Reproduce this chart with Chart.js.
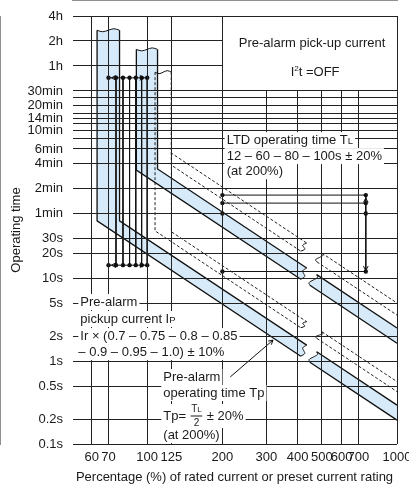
<!DOCTYPE html>
<html>
<head>
<meta charset="utf-8">
<title>Pre-alarm operating characteristic</title>
<script src="https://cdn.jsdelivr.net/npm/chart.js@4.4.1/dist/chart.umd.min.js"></script>
<style>
  html, body { margin: 0; padding: 0; background: #fff; }
  .box { position: relative; width: 409px; height: 486px; }
</style>
</head>
<body>
<div class="box"><canvas id="curve"></canvas></div>
<script>
let ctx = document.getElementById('curve').getContext('2d');

// axis ticks
const xTicks = [60, 70, 100, 125, 200, 300, 400, 500, 600, 700, 1000];
const yTicks = [0.1, 0.2, 0.5, 1, 2, 5, 10, 20, 30, 60, 120, 240, 360, 480, 600, 720, 840, 960, 1200, 1500, 1800, 3600, 7200, 14400];
const yTickLabels = ['0.1s', '0.2s', '0.5s', '1s', '2s', '5s', '10s', '20s', '30s', '1min', '2min', '4min', '6min', '', '10min', '', '14min', '', '20min', '', '30min', '1h', '2h', '4h'];

// curves: pick-up edges (%) and time at 200 % (s) of the lower / upper curve
const preAlarm6Pickup = [63, 77.5];
const preAlarm6T200 = [4.85, 7.35];
const preAlarm50Pickup = [90.5, 110];
const preAlarm50T200 = [41, 62.5];
const ltd12Pickup = [107.5, 125];
const ltd12T200 = [10.7, 14.1];
const ltd100Pickup = [125, 125];
const ltd100T200 = [89.5, 125];
const curveTops = [9700, 5700, 3030];

// where the curves are broken (lower edge, upper edge), %
const breakStop = [412, 435];
const bandResume = [448, 477];
const dashResume = [478, 500];

// pre-alarm pick-up settings Ir x 0.7 ... 1.0
const pickupSettings = [70, 75, 80, 85, 90, 95, 100];
const pickupArrowTimes = [2590, 14.3];

// LTD settings TL (s at 200 %)
const ltdSettings = [12, 60, 80, 100];
const settingSpan = [200, 750];

// leader from the Tp note to the band
const leaderX = [215, 319];
const leaderT = [0.643, 1.79];

const FONT = '"Liberation Sans", Arial, Helvetica, sans-serif';
const INK = '#1a1a1a';
const GRID = '#222';
const BLUE = 'rgb(214, 234, 249)';

const tAt = (x, t200) => t200 * (200 / x) * (200 / x);

// small ripple between two points (log space), for the broken ends
function wave(a, b, amp, dir) {
  const bumps = [0, 1, 0, -1, 0];
  const ax = Math.log10(a.x), ay = Math.log10(a.y);
  const bx = Math.log10(b.x), by = Math.log10(b.y);
  return bumps.map((k, i) => {
    let lx = ax + (bx - ax) * i / 4, ly = ay + (by - ay) * i / 4;
    if (dir === 'x') lx += k * amp; else ly += k * amp;
    return {x: Math.pow(10, lx), y: Math.pow(10, ly)};
  });
}

function bandPaths(pickup, t200, top, resume) {
  const pt = (x, i) => ({x: x, y: tAt(x, t200[i])});
  const inner1 = [{x: pickup[0], y: top}, pt(pickup[0], 0), pt(breakStop[0], 0)];
  const outer1 = [{x: pickup[1], y: top}, pt(pickup[1], 1), pt(breakStop[1], 1)];
  const inner2 = [pt(resume[0], 0), pt(1000, 0)];
  const outer2 = [pt(resume[1], 1), pt(1000, 1)];
  return {
    inner1, outer1, inner2, outer2,
    topCap: wave(outer1[0], inner1[0], 0.018, 'y'),
    endCap: wave(inner1[2], outer1[2], 0.01, 'x'),
    startCap: wave(outer2[0], inner2[0], 0.01, 'x')
  };
}

const datasets = [];
const solid = {borderColor: '#111', borderWidth: 1.3, pointRadius: 0, fill: false, tension: 0};
const thin = {borderColor: '#111', borderWidth: 1, pointRadius: 0, fill: false, tension: 0};
const dashed = {borderColor: '#222', borderWidth: 1, borderDash: [3, 2], pointRadius: 0, fill: false, tension: 0};
const capLine = {borderColor: '#111', borderWidth: 1, pointRadius: 0, fill: false, tension: 0.4};
const dots = {pointRadius: 2.2, pointBackgroundColor: '#111', pointBorderWidth: 0};

function line(data, style, extra) {
  datasets.push(Object.assign({data: data}, style, extra || {}));
}

function curveGroup(pickup, t200, top, resume, filled, lineStyle, withTop) {
  const p = bandPaths(pickup, t200, top, resume);
  if (filled) {
    const fillStyle = {borderWidth: 0, pointRadius: 0, fill: 'shape', backgroundColor: BLUE, order: 10};
    line([...p.inner1, ...p.endCap.slice(1, -1), ...p.outer1.slice().reverse(), ...p.topCap.slice(1)], fillStyle);
    line([...p.inner2, ...p.outer2.slice().reverse(), ...p.startCap.slice(1)], fillStyle);
  }
  line(p.inner1, lineStyle);
  line(p.outer1, lineStyle);
  line(p.inner2, lineStyle);
  line(p.outer2, lineStyle);
  line(p.endCap, capLine);
  line(p.startCap, capLine);
  if (withTop) line(p.topCap, capLine);
}

curveGroup(preAlarm6Pickup, preAlarm6T200, curveTops[0], bandResume, true, solid, true);
curveGroup(preAlarm50Pickup, preAlarm50T200, curveTops[1], bandResume, true, solid, true);
curveGroup(ltd12Pickup, ltd12T200, curveTops[2], dashResume, false, dashed, true);
curveGroup(ltd100Pickup, ltd100T200, curveTops[2], dashResume, false, dashed, false);

// pick-up setting lines with the two dotted arrows
pickupSettings.forEach(s => line([{x: s, y: pickupArrowTimes[0]}, {x: s, y: pickupArrowTimes[1]}], thin));
pickupArrowTimes.forEach(t => line(pickupSettings.map(s => ({x: s, y: t})), thin, dots));

// TL setting marks and the range arrow
ltdSettings.forEach(t => line(settingSpan.map(x => ({x: x, y: t})), thin, dots));
line([{x: settingSpan[1], y: Math.max(...ltdSettings)}, {x: settingSpan[1], y: Math.min(...ltdSettings)}], thin);

// leader
line([{x: leaderX[0], y: leaderT[0]}, {x: leaderX[1], y: leaderT[1]}], thin);

// notes, anchored in data units
const notes = [
  {x: 457, t: 6780, align: 'center', bg: false, runs: [['Pre-alarm pick-up current']]},
  {x: 470, t: 2974, align: 'center', bg: false, runs: [['I'], ['2', 'sup'], ['t =OFF']]},
  {x: 208, t: 460, runs: [['LTD operating time T'], ['L', 'cap']]},
  {x: 208, t: 295, runs: [['12 – 60 – 80 – 100s ± 20%']]},
  {x: 208, t: 194, runs: [['(at 200%)']]},
  {x: 54, t: 5.14, runs: [['Pre-alarm']]},
  {x: 54, t: 3.21, runs: [['pickup current I'], ['P', 'cap']]},
  {x: 54, t: 2.0, runs: [['Ir × (0.7 – 0.75 – 0.8 – 0.85']]},
  {x: 53, t: 1.28, runs: [['– 0.9 – 0.95 – 1.0) ± 10%']]},
  {x: 116, t: 0.641, runs: [['Pre-alarm']]},
  {x: 116, t: 0.411, runs: [['operating time Tp']]},
  {x: 116, t: 0.217, tall: true, runs: [['Tp= '], ['', 'frac'], [' ± 20%']]},
  {x: 116, t: 0.128, runs: [['(at 200%)']]}
];

const fontOf = size => size + 'px ' + FONT;

function runWidth(c, r) {
  if (r[1] === 'frac') {
    c.font = fontOf(10);
    const tw = c.measureText('T').width;
    c.font = fontOf(8);
    return Math.max(tw + c.measureText('L').width, 7) + 3;
  }
  c.font = fontOf(r[1] === 'cap' ? 9.5 : r[1] === 'sup' ? 8 : 13);
  return c.measureText(r[0]).width;
}

function chevron(c, x, y, ang) {
  const L = 5, s = 0.5;
  c.beginPath();
  c.moveTo(x - L * Math.cos(ang - s), y - L * Math.sin(ang - s));
  c.lineTo(x, y);
  c.lineTo(x - L * Math.cos(ang + s), y - L * Math.sin(ang + s));
  c.stroke();
}

const notesPlugin = {
  id: 'notes',
  afterDraw(chart) {
    const c = chart.ctx;
    const xs = chart.scales.x, ys = chart.scales.y;
    const px = v => xs.getPixelForValue(v);
    const py = v => ys.getPixelForValue(v);
    c.save();

    // empty panel at the top right
    const bx0 = Math.round(px(200) - 0.5) + 1, bx1 = Math.round(px(1000) - 0.5);
    const by0 = Math.round(py(14400) - 0.5) + 1, by1 = Math.round(py(1800) - 0.5);
    c.fillStyle = '#fff';
    c.fillRect(bx0, by0, bx1 - bx0, by1 - by0);

    // arrow heads
    c.strokeStyle = '#111';
    c.lineWidth = 1;
    const lo = pickupSettings[0], hi = pickupSettings[pickupSettings.length - 1];
    pickupArrowTimes.forEach(t => {
      chevron(c, px(lo) + 3, py(t), Math.PI);
      chevron(c, px(hi) - 3, py(t), 0);
    });
    const sx = px(settingSpan[1]);
    chevron(c, sx, py(Math.max(...ltdSettings)) + 3, -Math.PI / 2);
    chevron(c, sx, py(Math.min(...ltdSettings)) - 1, Math.PI / 2);
    const l0x = px(leaderX[0]), l0y = py(leaderT[0]), l1x = px(leaderX[1]), l1y = py(leaderT[1]);
    chevron(c, l1x, l1y, Math.atan2(l1y - l0y, l1x - l0x));

    // text
    c.textBaseline = 'middle';
    notes.forEach(n => {
      const widths = n.runs.map(r => runWidth(c, r));
      const total = widths.reduce((a, b) => a + b, 0);
      let x = px(n.x);
      const y = py(n.t);
      if (n.align === 'center') x -= total / 2;
      if (n.bg !== false) {
        c.fillStyle = '#fff';
        const h = n.tall ? 12 : 8;
        c.fillRect(x - 2, y - h, total + 4, h * 2);
      }
      c.fillStyle = INK;
      c.textAlign = 'left';
      n.runs.forEach((r, i) => {
        if (r[1] === 'frac') {
          c.font = fontOf(10);
          const tw = c.measureText('T').width;
          c.font = fontOf(8);
          const lw = c.measureText('L').width;
          const mid = x + widths[i] / 2;
          c.font = fontOf(10);
          c.fillText('T', mid - (tw + lw) / 2, y - 7);
          c.font = fontOf(8);
          c.fillText('L', mid - (tw + lw) / 2 + tw, y - 6.5);
          c.font = fontOf(10);
          c.textAlign = 'center';
          c.fillText('2', mid, y + 7);
          c.textAlign = 'left';
          c.fillRect(x + 1, Math.round(y) - 0.5, widths[i] - 2, 1);
        } else if (r[1] === 'cap') {
          c.font = fontOf(9.5);
          c.fillText(r[0], x, y + 1.5);
        } else if (r[1] === 'sup') {
          c.font = fontOf(8);
          c.fillText(r[0], x, y - 4);
        } else {
          c.font = fontOf(13);
          c.fillText(r[0], x, y);
        }
        x += widths[i];
      });
    });
    c.restore();
  }
};

const tickFont = {family: FONT, size: 13};

const tripChart = new Chart(ctx, {
  type: 'line',
  data: {datasets: datasets},
  options: {
    responsive: true,
    maintainAspectRatio: false,
    animation: false,
    events: [],
    layout: {padding: {top: 16, right: 12, left: 0, bottom: 0}},
    plugins: {legend: {display: false}, tooltip: {enabled: false}},
    scales: {
      x: {
        type: 'logarithmic',
        min: 50,
        max: 1000,
        afterBuildTicks: axis => { axis.ticks = xTicks.map(v => ({value: v})); },
        afterFit: axis => { axis.height = 42; axis.paddingLeft = 0; axis.paddingRight = 0; },
        ticks: {autoSkip: false, maxRotation: 0, padding: 6, color: INK, font: tickFont, callback: v => String(v)},
        grid: {color: GRID, lineWidth: 1, drawTicks: false, z: 1},
        border: {color: GRID},
        title: {display: true, text: 'Percentage (%) of rated current or preset current rating', color: INK, font: tickFont, padding: {top: 0, bottom: 1}}
      },
      y: {
        type: 'logarithmic',
        min: 0.1,
        max: 14400,
        afterBuildTicks: axis => { axis.ticks = yTicks.map(v => ({value: v})); },
        afterFit: axis => { axis.width = 72; axis.paddingTop = 0; axis.paddingBottom = 0; },
        ticks: {autoSkip: false, padding: 9, color: INK, font: tickFont, callback: v => yTickLabels[yTicks.indexOf(v)]},
        grid: {color: GRID, lineWidth: 1, drawTicks: false, z: 1},
        border: {color: GRID},
        title: {display: true, text: 'Operating time', color: INK, font: tickFont, padding: {top: 9, bottom: 0}}
      }
    }
  },
  plugins: [notesPlugin]
});
</script>
</body>
</html>
